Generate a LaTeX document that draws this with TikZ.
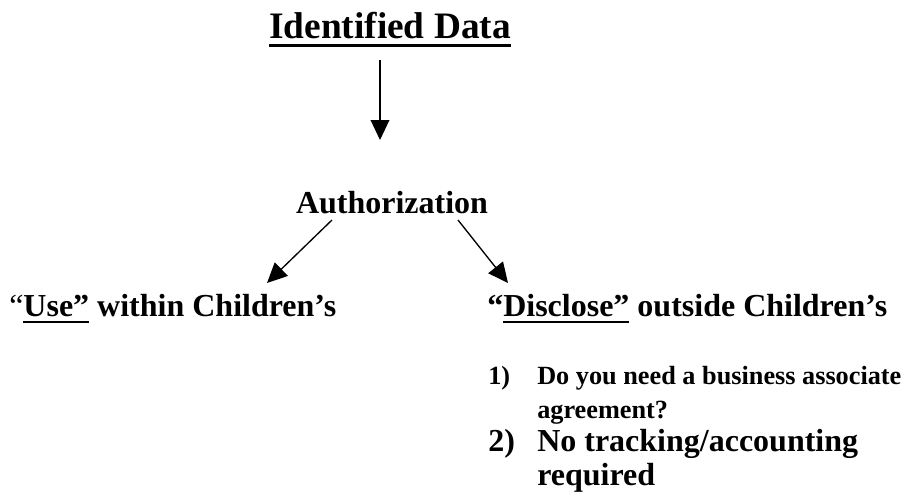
\documentclass[tikz,border=0pt]{standalone}
\usepackage{fontspec}
\setmainfont{Liberation Serif}
\usetikzlibrary{positioning,arrows.meta}

% underline: #1 thickness, #2 depth of its lower edge, #3 text
\newsavebox{\ulsave}
\newcommand{\ulbar}[3]{\sbox{\ulsave}{#3}%
  \rlap{\vrule width\wd\ulsave height \dimexpr#1-#2\relax depth #2}\usebox{\ulsave}}
\newcommand{\titleul}[1]{\ulbar{2.2pt}{7pt}{#1}}
\newcommand{\headul}[1]{\ulbar{2pt}{5.4pt}{#1}}

\begin{document}
\begin{tikzpicture}[x=0.75pt, y=-0.75pt,
    title/.style={inner sep=0pt, anchor=base, font=\bfseries\fontsize{28}{32}\selectfont},
    head/.style={inner sep=0pt, anchor=base west, font=\bfseries\fontsize{24}{28}\selectfont},
    small/.style={inner sep=0pt, anchor=base west, font=\bfseries\fontsize{19.7}{24}\selectfont},
    big/.style={inner sep=0pt, anchor=base west, font=\bfseries\fontsize{24}{28}\selectfont},
    arr/.style={-{Triangle[length=15pt, width=14pt]}, line width=1pt}
]
    \useasboundingbox (0,0) rectangle (908,493);

    % Top and middle
    \node[title] (ident) at (390,38) {\titleul{Identified Data}};
    \node[head, anchor=base] (auth) at (392,213) {Authorization};

    % Headings
    \node[head] (use) at (9,316) {{\mdseries “}\headul{Use”} within Children’s};
    \node[head] (disc) at (487,316) {“\headul{Disclose”} outside Children’s};

    \draw[arr] ([shift={(-10,22)}]ident.base) -- ([shift={(-12,-73)}]auth.base);
    \draw[arr] ([shift={(-60,7)}]auth.base) -- ([shift={(258,-33)}]use.base west);
    \draw[arr] ([shift={(66,7)}]auth.base) -- ([shift={(21,-33)}]disc.base west);

    % List under the right heading
    \node[small] (onenum) at (488,384) {1)};
    \node[small] (onea) at (537,384) {Do you need a business associate};
    \node[small] (oneb) at ([shift={(0,34)}]onea.base west) {agreement?};
    \node[big] (twonum) at (488,451) {2)};
    \node[big] (twoa) at (537,451) {No tracking/accounting};
    \node[big] (twob) at ([shift={(0,34)}]twoa.base west) {required};
\end{tikzpicture}
\end{document}
